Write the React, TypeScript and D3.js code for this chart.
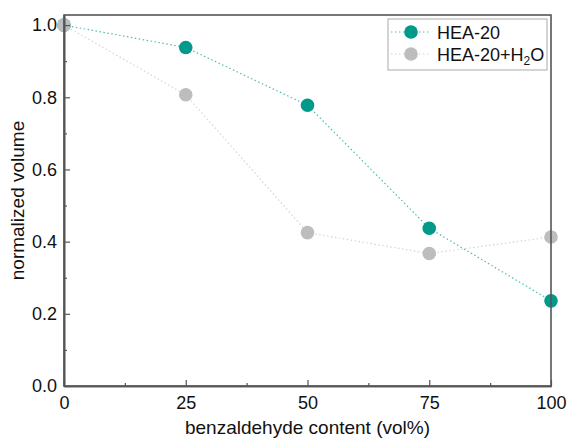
import React, { useEffect, useRef } from "react";
import * as d3 from "d3";

const content = [0, 25, 50, 75, 100];
const hea20 = [1.0, 0.938, 0.778, 0.437, 0.236];
const hea20Water = [1.0, 0.807, 0.425, 0.367, 0.413];
const xTicks = [0, 25, 50, 75, 100];
const yTicks = [0, 0.2, 0.4, 0.6, 0.8, 1.0];

const series = [
  { name: "HEA-20", values: hea20, color: "#00998a", line: "#4dbdb0" },
  { name: "HEA-20+H2O", values: hea20Water, color: "#bdbdbd", line: "#d4d4d4" },
];

const App = () => {
  const svgRef = useRef<SVGSVGElement>(null);

  useEffect(() => {
    const svg = d3.select(svgRef.current);
    svg.selectAll("*").remove();
    const margin = { top: 15, right: 16, bottom: 53, left: 64 };
    const width = 567 - margin.left - margin.right;
    const height = 439 - margin.top - margin.bottom;
    const font = "'Liberation Sans', Arial, sans-serif";

    const x = d3.scaleLinear().domain([0, 100]).range([margin.left, margin.left + width]);
    const y = d3.scaleLinear().domain([0, 1.028]).range([margin.top + height, margin.top]);

    const frame = "#555";

    // dotted connecting lines
    series.forEach((s) => {
      const line = d3
        .line<number>()
        .x((_, i) => x(content[i]))
        .y((d) => y(d));
      svg.append("path")
        .datum(s.values)
        .attr("d", line)
        .attr("fill", "none")
        .attr("stroke", s.line)
        .attr("stroke-width", 1.2)
        .attr("stroke-dasharray", "1.5,2.5");
    });
    series.forEach((s) => {
      svg.selectAll(null)
        .data(s.values)
        .enter()
        .append("circle")
        .attr("cx", (_, i) => x(content[i]))
        .attr("cy", (d) => y(d))
        .attr("r", 6.8)
        .attr("fill", s.color);
    });

    // frame
    svg.append("rect")
      .attr("x", margin.left)
      .attr("y", margin.top)
      .attr("width", width)
      .attr("height", height)
      .attr("fill", "none")
      .attr("stroke", frame)
      .attr("stroke-width", 1.6);

    // axes, ticks pointing inward
    const xAxis = svg.append("g")
      .attr("transform", `translate(0,${margin.top + height})`)
      .call(d3.axisBottom(x).tickValues(xTicks).tickSizeInner(-6).tickSizeOuter(0).tickPadding(10).tickFormat(d3.format("d")));
    const xMinor = svg.append("g")
      .attr("transform", `translate(0,${margin.top + height})`)
      .call(d3.axisBottom(x).tickValues([12.5, 37.5, 62.5, 87.5]).tickSizeInner(-3).tickSizeOuter(0).tickFormat(() => ""));

    const yAxis = svg.append("g")
      .attr("transform", `translate(${margin.left},0)`)
      .call(d3.axisLeft(y).tickValues(yTicks).tickSizeInner(-6).tickSizeOuter(0).tickPadding(7).tickFormat(d3.format(".1f")));
    const yMinor = svg.append("g")
      .attr("transform", `translate(${margin.left},0)`)
      .call(d3.axisLeft(y).tickValues([0.1, 0.3, 0.5, 0.7, 0.9]).tickSizeInner(-3).tickSizeOuter(0).tickFormat(() => ""));

    [xAxis, xMinor, yAxis, yMinor].forEach((g) => {
      g.select(".domain").attr("stroke", frame).attr("stroke-width", 1.6);
      g.selectAll("line").attr("stroke", frame).attr("stroke-width", 1.2);
      g.selectAll("text").attr("font-family", font).attr("font-size", 18).attr("fill", "#111");
    });

    svg.append("text")
      .attr("x", margin.left + width / 2)
      .attr("y", 434)
      .attr("text-anchor", "middle")
      .attr("font-family", font)
      .attr("font-size", 19)
      .attr("fill", "#111")
      .text("benzaldehyde content (vol%)");

    svg.append("text")
      .attr("transform", `translate(24,${margin.top + height / 2}) rotate(-90)`)
      .attr("text-anchor", "middle")
      .attr("font-family", font)
      .attr("font-size", 19)
      .attr("fill", "#111")
      .text("normalized volume");

    // legend
    const legend = svg.append("g").attr("transform", "translate(388,19)");
    legend.append("rect")
      .attr("width", 159)
      .attr("height", 51)
      .attr("fill", "white")
      .attr("stroke", "#aaa")
      .attr("stroke-width", 1);
    series.forEach((s, i) => {
      const cy = 13 + i * 22;
      legend.append("line")
        .attr("x1", 3).attr("x2", 43).attr("y1", cy).attr("y2", cy)
        .attr("stroke", s.line).attr("stroke-width", 1.2).attr("stroke-dasharray", "1.5,2.5");
      legend.append("circle").attr("cx", 23).attr("cy", cy).attr("r", 6.8).attr("fill", s.color);
      const t = legend.append("text")
        .attr("x", 49).attr("y", cy + 6.5)
        .attr("font-family", font).attr("font-size", 18).attr("fill", "#111");
      if (s.name.endsWith("H2O")) {
        t.append("tspan").text("HEA-20+H");
        t.append("tspan").attr("font-size", 12).attr("dy", 4).text("2");
        t.append("tspan").attr("dy", -4).text("O");
      } else {
        t.text(s.name);
      }
    });
  }, []);

  return (
    <svg
      ref={svgRef}
      width={567}
      height={439}
      style={{ display: "block", position: "absolute", left: 0, top: 0 }}
    ></svg>
  );
};

export default App;
